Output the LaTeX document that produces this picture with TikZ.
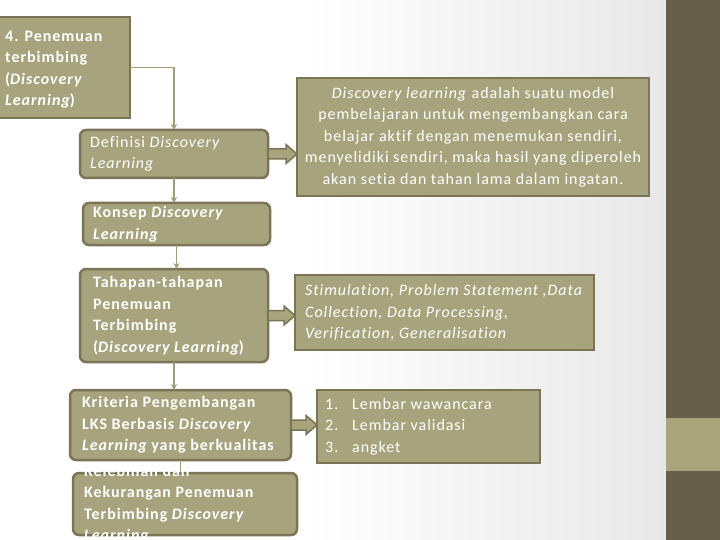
\documentclass[tikz,border=0pt]{standalone}
\usepackage{fontspec}
\setmainfont{Carlito}[LetterSpace=6,Ligatures=NoCommon]
\usetikzlibrary{calc,arrows.meta}
\definecolor{boxfill}{HTML}{A7A37C}
\definecolor{boxline}{HTML}{7B7557}
\definecolor{connc}{HTML}{A19D76}
\definecolor{bardark}{HTML}{675F49}
\definecolor{barlight}{HTML}{A8A47C}
\definecolor{bggray}{HTML}{E8E8E8}
\tikzset{
  sqbox/.style={draw=boxline, fill=boxfill, line width=2.5pt, inner sep=0pt, outer sep=0pt, anchor=north west},
  rbox/.style={sqbox, rounded corners=6pt},
  txt/.style={text=white, font=\fontsize{16}{21.5}\selectfont, inner sep=0pt, align=left, anchor=west},
  conn/.style={draw=connc, line width=1.5pt, -{Stealth[length=6pt,width=6pt]}},
  plainconn/.style={draw=connc, line width=1.5pt},
  fat/.style={draw=boxline, fill=barlight, line width=1.5pt, line join=miter},
}
\newcommand{\fatarr}[2]{%
  \draw[fat] let \p1=(#1), \p2=(#2) in
    (\x1,{\y1+5pt}) -- ({\x2-11pt},{\y1+5pt}) -- ({\x2-11pt},{\y1+9.5pt}) --
    (\x2,\y1) -- ({\x2-11pt},{\y1-9.5pt}) -- ({\x2-11pt},{\y1-5pt}) -- (\x1,{\y1-5pt}) -- cycle;}
\begin{document}
\begin{tikzpicture}[x=1pt,y=-1pt]
\useasboundingbox (0,0) rectangle (720,540);
% background
\fill[white] (0,0) rectangle (666,540);
\shade[left color=white, right color=bggray] (300,0) rectangle (666,540);
\fill[bardark] (666,0) rectangle (720,540);
\fill[barlight] (666,418) rectangle (720,471);

% boxes
\node[sqbox, minimum width=133pt, minimum height=101pt] (b1) at (-3,17) {};
\node[txt] (b1t) at ([xshift=8pt,yshift=-2pt]b1.west) {\bfseries 4. Penemuan\\\bfseries terbimbing\\\bfseries (\itshape Discovery\\\bfseries\itshape Learning\upshape)};

\node[rbox, minimum width=188pt, minimum height=48pt] (def) at (80,130) {};
\node[txt] (deft) at ([xshift=10pt]def.west) {Definisi \textit{Discovery}\\\textit{Learning}};

\node[sqbox, minimum width=352pt, minimum height=118pt] (defbox) at (297,78) {};
\node[txt, align=center, anchor=center] (defboxt) at (defbox.center) {\textit{Discovery learning} adalah suatu model\\pembelajaran untuk mengembangkan cara\\belajar aktif dengan menemukan sendiri,\\menyelidiki sendiri, maka hasil yang diperoleh\\akan setia dan tahan lama dalam ingatan.};

\node[rbox, minimum width=187pt, minimum height=42pt] (konsep) at (83,203) {};
\node[txt] (konsept) at ([xshift=10pt]konsep.west) {\bfseries Konsep \itshape Discovery\\\bfseries\itshape Learning};

\node[rbox, minimum width=188pt, minimum height=93pt] (tah) at (80,269) {};
\node[txt] (taht) at ([xshift=13pt]tah.west) {\bfseries Tahapan-tahapan\\\bfseries Penemuan\\\bfseries Terbimbing\\\bfseries (\itshape Discovery Learning\upshape)};

\node[sqbox, minimum width=299pt, minimum height=75pt] (stim) at (295,275) {};
\node[txt] (stimt) at ([xshift=10pt]stim.west) {\itshape Stimulation, Problem Statement ,Data\\\itshape Collection, Data Processing,\\\itshape Verification, Generalisation};

\node[rbox, minimum width=221pt, minimum height=70pt] (krit) at (70,390) {};
\node[txt] (kritt) at ([xshift=12pt]krit.west) {\bfseries Kriteria Pengembangan\\\bfseries LKS Berbasis \itshape Discovery\\\bfseries\itshape Learning \upshape yang berkualitas};

\node[sqbox, minimum width=223pt, minimum height=73pt] (list) at (317,390) {};
\node[txt] (listt) at ([xshift=8pt]list.west) {\makebox[27pt][l]{1.}Lembar wawancara\\\makebox[27pt][l]{2.}Lembar validasi\\\makebox[27pt][l]{3.}angket};

\node[rbox, minimum width=224pt, minimum height=62pt] (kel) at (73,473) {};
\begin{scope}
\clip (0,469) rectangle (666,540);
\node[txt] (kelt) at ([xshift=11pt]kel.west) {\bfseries Kelebihan dan\\\bfseries Kekurangan Penemuan\\\bfseries Terbimbing \itshape Discovery\\\bfseries\itshape Learning};
\end{scope}

% connectors
\draw[conn] (b1.east) -| (def.north);
\draw[conn] (def.south) -- (def.south |- konsep.north);
\draw[conn] (konsep.south) -- (konsep.south |- tah.north);
\draw[conn] (tah.south) -- (tah.south |- krit.north);
\draw[plainconn] (krit.south) -- (krit.south |- kel.north);

% fat arrows
\fatarr{def.east}{defbox.west |- def.east}
\fatarr{tah.east}{stim.west |- tah.east}
\fatarr{krit.east}{list.west |- krit.east}
\end{tikzpicture}
\end{document}
